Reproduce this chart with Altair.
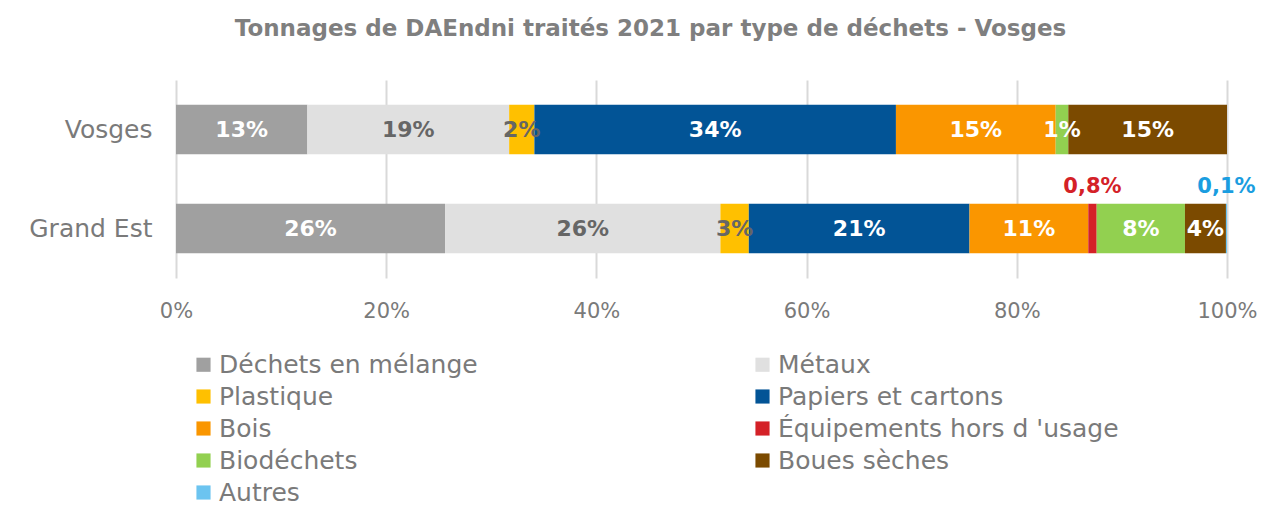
import altair as alt
import pandas as pd

regions = ["Vosges", "Grand Est"]
types = [
    "Déchets en mélange",
    "Métaux",
    "Plastique",
    "Papiers et cartons",
    "Bois",
    "Équipements hors d 'usage",
    "Biodéchets",
    "Boues sèches",
    "Autres",
]
vosges_values = [12.5, 19.2, 2.4, 34.4, 15.2, 0.0, 1.2, 15.1, 0.0]
grand_est_values = [25.6, 26.2, 2.7, 21.0, 11.3, 0.8, 8.4, 3.9, 0.1]
vosges_labels = ["13%", "19%", "2%", "34%", "15%", "", "1%", "15%", ""]
grand_est_labels = ["26%", "26%", "3%", "21%", "11%", "", "8%", "4%", ""]
vosges_above = ["", "", "", "", "", "", "", "", ""]
grand_est_above = ["", "", "", "", "", "0,8%", "", "", "0,1%"]

bar_colors = ["#a0a0a0", "#e0e0e0", "#ffc000", "#025496", "#fa9600",
              "#d42127", "#92d050", "#7b4a00", "#6cc4f0"]
label_colors = ["#ffffff", "#666666", "#666666", "#ffffff", "#ffffff",
                "#ffffff", "#ffffff", "#ffffff", "#ffffff"]
above_colors = ["#ffffff", "#ffffff", "#ffffff", "#ffffff", "#ffffff",
                "#d42127", "#ffffff", "#ffffff", "#1a9de0"]

# legend entries laid out column by column (left column first, then right)
legend_order = [types[0], types[2], types[4], types[6], types[8],
                 types[1], types[3], types[5], types[7]]

rows = []
for reg, vals, labs, abv in [
    ("Vosges", vosges_values, vosges_labels, vosges_above),
    ("Grand Est", grand_est_values, grand_est_labels, grand_est_above),
]:
    for i, t in enumerate(types):
        rows.append({"region": reg, "type": t, "value": vals[i], "idx": i,
                     "label": labs[i], "above": abv[i]})
df = pd.DataFrame(rows)

FONT = "DejaVu Sans"
GRAY = "#7a7a7a"

base = alt.Chart(df).transform_stack(
    stack="value", groupby=["region"], sort=[alt.SortField("idx")], as_=["v0", "v1"]
).transform_calculate(mid="(datum.v0 + datum.v1) / 2")

y_enc = alt.Y(
    "region:N",
    sort=regions,
    scale=alt.Scale(paddingInner=0.5, paddingOuter=0.25),
    axis=alt.Axis(title=None, ticks=False, domain=False, labelFontSize=25,
                  labelColor=GRAY, labelPadding=24, labelFont=FONT),
)

bars = base.mark_bar().encode(
    x=alt.X(
        "v0:Q",
        scale=alt.Scale(domain=[0, 100], nice=False),
        axis=alt.Axis(title=None, values=[0, 20, 40, 60, 80, 100],
                      labelExpr="datum.value + '%'", ticks=False, domain=False,
                      grid=True, gridColor="#d9d9d9", gridWidth=2,
                      labelFontSize=21, labelColor=GRAY, labelPadding=22,
                      labelFont=FONT, labelFlush=False),
    ),
    x2="v1:Q",
    y=y_enc,
    color=alt.Color(
        "type:N",
        scale=alt.Scale(domain=types, range=bar_colors),
        legend=alt.Legend(
            title=None, orient="none", legendX=15, legendY=272, columns=2,
            values=legend_order,
            columnPadding=272, rowPadding=6, symbolType="square",
            symbolSize=200, symbolStrokeWidth=0, labelFontSize=25,
            labelColor=GRAY, labelFont=FONT, labelLimit=500, labelOffset=3,
        ),
    ),
)

inside = base.transform_filter("datum.label != ''").mark_text(
    fontSize=22, fontWeight="bold", font=FONT
).encode(
    x="mid:Q",
    y=alt.Y("region:N", sort=regions),
    text="label:N",
    color=alt.Color("type:N", scale=alt.Scale(domain=types, range=label_colors),
                    legend=None),
)

above = base.transform_filter("datum.above != ''").mark_text(
    fontSize=21, fontWeight="bold", font=FONT, dy=-42
).encode(
    x="mid:Q",
    y=alt.Y("region:N", sort=regions),
    text="above:N",
    color=alt.Color("type:N", scale=alt.Scale(domain=types, range=above_colors),
                    legend=None),
)

chart = alt.layer(bars, inside, above).resolve_scale(color="independent").properties(
    width=1051,
    height=198,
    autosize=alt.AutoSizeParams(type="none"),
    padding={"left": 168, "top": 72, "right": 31, "bottom": 228},
    title=alt.TitleParams(
        "Tonnages de DAEndni traités 2021 par type de déchets - Vosges",
        fontSize=23, fontWeight="bold", color="#7f7f7f", font=FONT,
        anchor="middle", dx=-51, offset=39,
    ),
).configure_view(stroke=None)

chart.save("out.html", embed_options={"renderer": "svg", "actions": False})
